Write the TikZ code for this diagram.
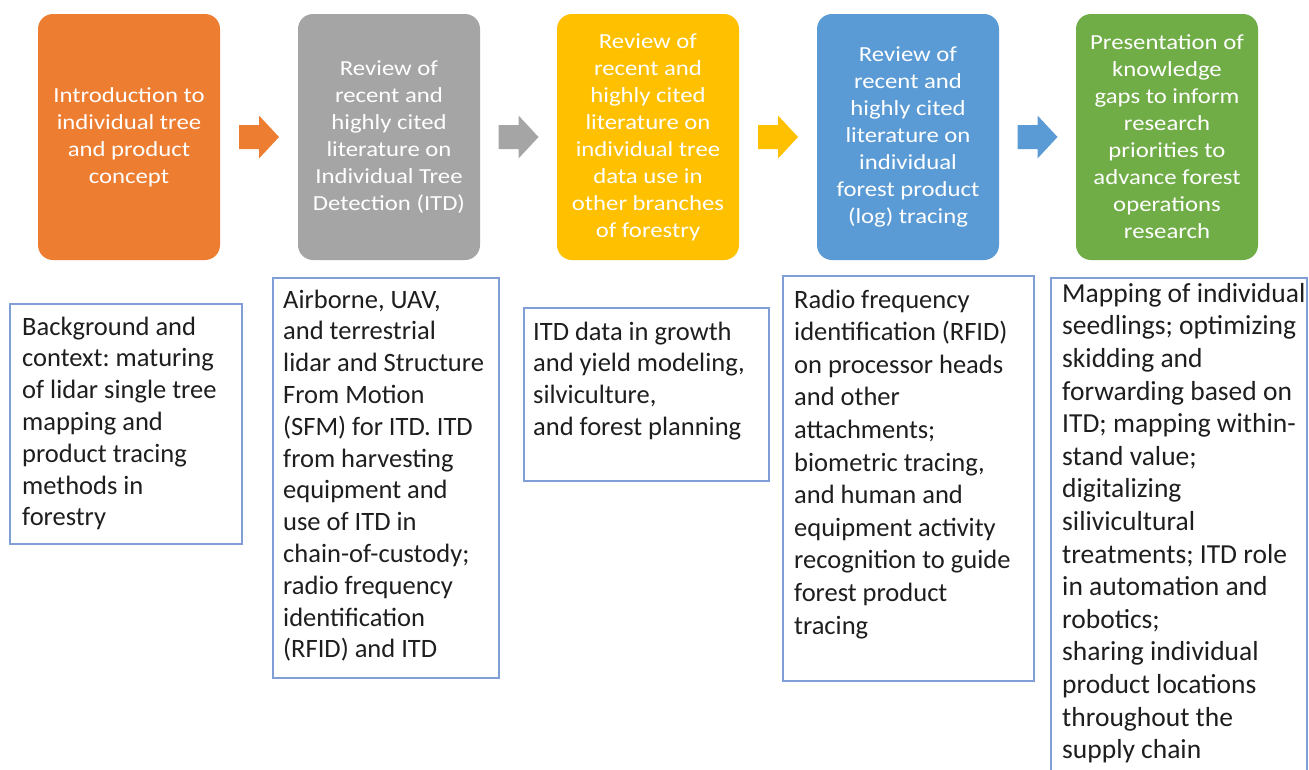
\documentclass[tikz,border=0pt]{standalone}
\usepackage{fontspec}
\setmainfont{Carlito}
\newfontfamily\topfont[FakeStretch=1.15]{Carlito}
\usetikzlibrary{calc}
\definecolor{cOrange}{HTML}{ED7D31}
\definecolor{cGray}{HTML}{A5A5A5}
\definecolor{cYellow}{HTML}{FFC000}
\definecolor{cBlue}{HTML}{5B9BD5}
\definecolor{cGreen}{HTML}{70AD47}
\definecolor{cBorder}{HTML}{7F9FD6}
\definecolor{cText}{HTML}{1E1E1E}
\frenchspacing
\begin{document}
\begin{tikzpicture}[x=1pt,y=-1pt,
  topbox/.style={rounded corners=15pt, minimum width=182, minimum height=246, inner sep=0,
    text=white, align=center, font=\topfont\fontsize{21.5}{27}\selectfont},
  descbox/.style={draw=cBorder, line width=1.5pt, anchor=north west, inner sep=0},
  desctext/.style={anchor=north west, inner sep=0, align=left, text=cText,
    font=\fontsize{26.5}{31.8}\selectfont},
  blockarrow/.pic={\fill (-20,-12) -- (0,-12) -- (0,-21.5) -- (20,0) -- (0,21.5) -- (0,12) -- (-20,12) -- cycle;}
]
\fill[white] (0,0) rectangle (1309,769);
\useasboundingbox (0,0) rectangle (1309,769);

% top boxes
\node[topbox, fill=cOrange] (t1) at (129,137) {Introduction to\\individual tree\\and product\\concept};
\node[topbox, fill=cGray] (t2) at (389,137) {Review of\\recent and\\highly cited\\literature on\\Individual Tree\\Detection (ITD)};
\node[topbox, fill=cYellow] (t3) at (648,137) {Review of\\recent and\\highly cited\\literature on\\individual tree\\data use in\\other branches\\of forestry};
\node[topbox, fill=cBlue] (t4) at (908,137) {Review of\\recent and\\highly cited\\literature on\\individual\\forest product\\(log) tracing};
\node[topbox, fill=cGreen] (t5) at (1167,137) {Presentation of\\knowledge\\gaps to inform\\research\\priorities to\\advance forest\\operations\\research};

% block arrows between the boxes
\coordinate (a1) at ($(t1.east)!0.5!(t2.west)$);
\coordinate (a2) at ($(t2.east)!0.5!(t3.west)$);
\coordinate (a3) at ($(t3.east)!0.5!(t4.west)$);
\coordinate (a4) at ($(t4.east)!0.5!(t5.west)$);
\pic[fill=cOrange] at (a1) {blockarrow};
\pic[fill=cGray] at (a2) {blockarrow};
\pic[fill=cYellow] at (a3) {blockarrow};
\pic[fill=cBlue] at (a4) {blockarrow};

% description boxes
\node[descbox, minimum width=232, minimum height=240] (d1) at (9,303) {};
\node[desctext] (x1) at ($(d1.north west)+(13,9.7)$) {\strut Background and\\context: maturing\\of lidar single tree\\mapping and\\product tracing\\methods in\\forestry};

\node[descbox, minimum width=226, minimum height=400] (d2) at (272,277) {};
\node[desctext] (x2) at ($(d2.north west)+(11,8.7)$) {\strut Airborne, UAV,\\and terrestrial\\lidar and Structure\\From Motion\\(SFM) for ITD. ITD\\from harvesting\\equipment and\\use of ITD in\\chain-of-custody;\\radio frequency\\identification\\(RFID) and ITD};

\node[descbox, minimum width=245, minimum height=173] (d3) at (523,307) {};
\node[desctext] (x3) at ($(d3.north west)+(10,10.7)$) {\strut ITD data in growth\\and yield modeling,\\silviculture,\\and forest planning};

\node[descbox, minimum width=251, minimum height=405] (d4) at (782,275) {};
\node[desctext, font=\fontsize{26.5}{32.6}\selectfont] (x4) at ($(d4.north west)+(12,10)$) {\strut Radio frequency\\identification (RFID)\\on processor heads\\and other\\attachments;\\biometric tracing,\\and human and\\equipment activity\\recognition to guide\\forest product\\tracing};

\node[descbox, minimum width=256, minimum height=510] (d5) at (1050,277) {};
\node[desctext, font=\fontsize{27.5}{32.6}\selectfont] (x5) at ($(d5.north west)+(12,2.2)$) {\strut Mapping of individual\\seedlings; optimizing\\skidding and\\forwarding based on\\ITD; mapping within-\\stand value;\\digitalizing\\silivicultural\\treatments; ITD role\\in automation and\\robotics;\\sharing individual\\product locations\\throughout the\\supply chain};
\end{tikzpicture}
\end{document}
